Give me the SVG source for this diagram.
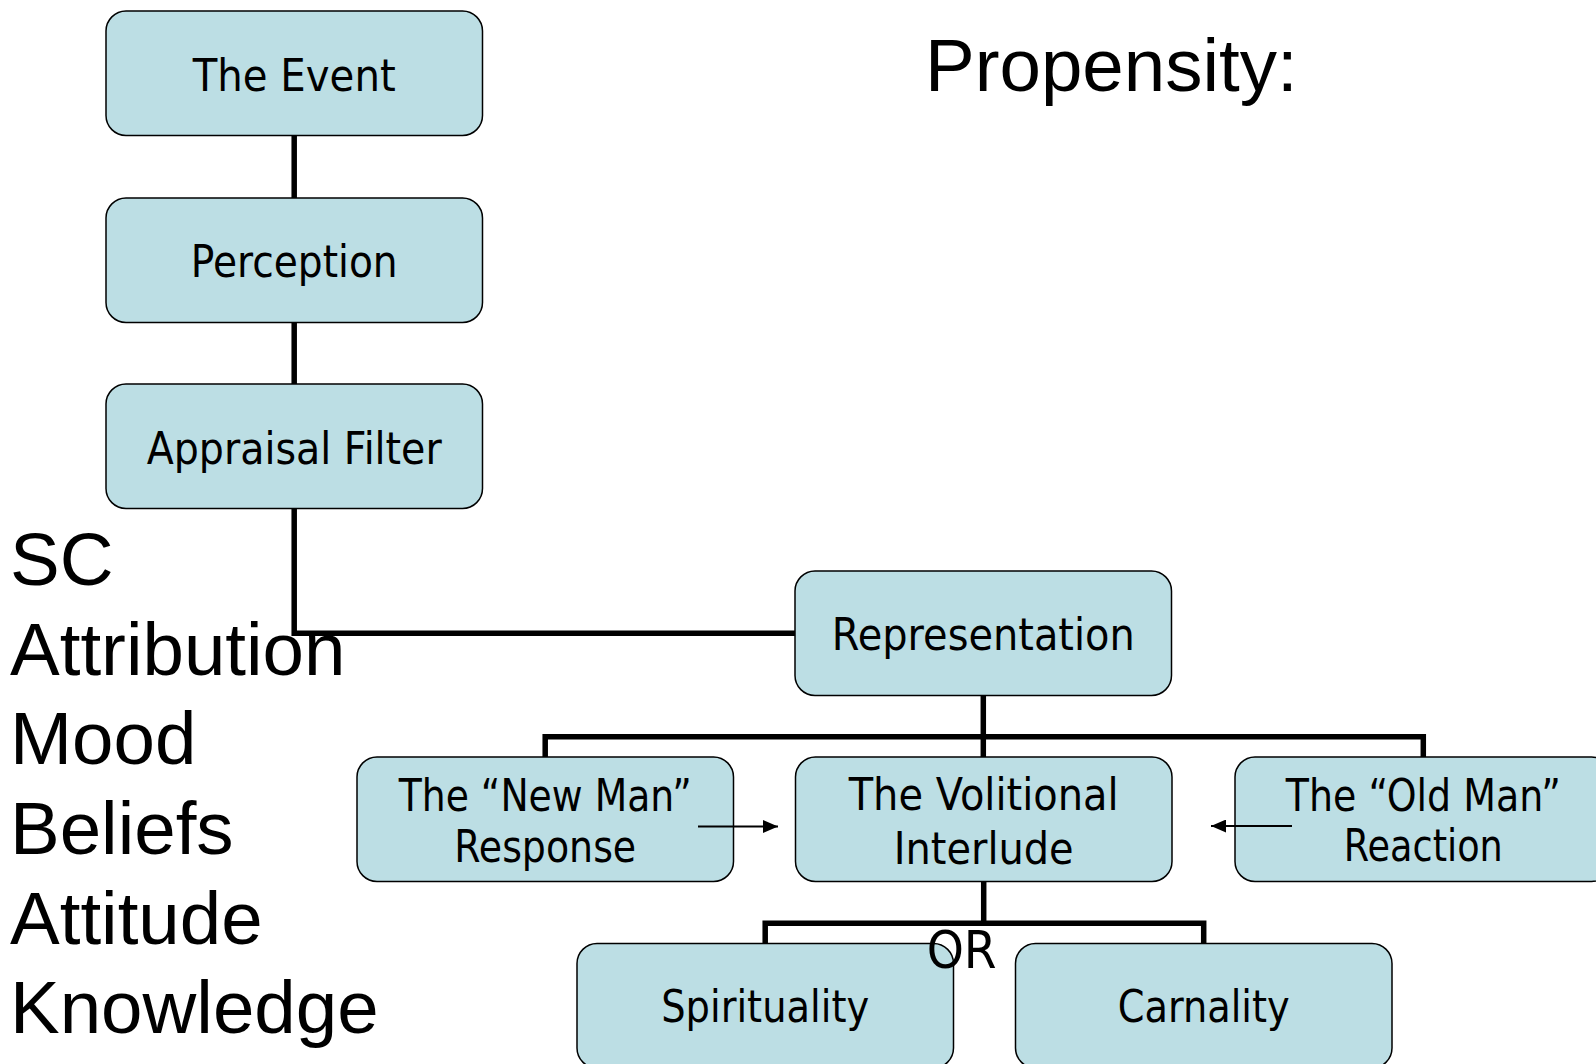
<svg xmlns="http://www.w3.org/2000/svg" width="1596" height="1064" viewBox="0 0 1596 1064">
<style>
.box{fill:#BCDEE4;stroke:#000;stroke-width:1.5}
.lbl{font-family:"DejaVu Sans","Liberation Sans",sans-serif;font-size:45px;fill:#000;text-anchor:middle}
.big{font-family:"Liberation Sans",Arial,sans-serif;font-size:74.5px;fill:#000}
.thick{fill:none;stroke:#000;stroke-width:5.5;stroke-linejoin:miter;stroke-linecap:butt}
.thin{fill:none;stroke:#000;stroke-width:2}
</style>
<defs>
<marker id="ah" viewBox="0 0 15 13" refX="15" refY="6.5" markerWidth="15" markerHeight="13" markerUnits="userSpaceOnUse" orient="auto">
<path d="M0,0 L15,6.5 L0,13 Z" fill="#000"/>
</marker>
</defs>
<rect width="1596" height="1064" fill="#fff"/>

<g id="nodes">
<g id="event">
<rect class="box" x="106" y="11" width="376.5" height="124.5" rx="20"/>
<text class="lbl" x="294.2" y="90.5" textLength="203" lengthAdjust="spacingAndGlyphs">The Event</text>
</g>
<g id="perception">
<rect class="box" x="106" y="198" width="376.5" height="124.5" rx="20"/>
<text class="lbl" x="294.2" y="277.3" textLength="207" lengthAdjust="spacingAndGlyphs">Perception</text>
</g>
<g id="appraisal">
<rect class="box" x="106" y="384" width="376.5" height="124.5" rx="20"/>
<text class="lbl" x="294.2" y="464" textLength="295" lengthAdjust="spacingAndGlyphs">Appraisal Filter</text>
</g>
<g id="representation">
<rect class="box" x="795" y="571" width="376.5" height="124.5" rx="20"/>
<text class="lbl" x="983.3" y="649.5" textLength="303" lengthAdjust="spacingAndGlyphs">Representation</text>
</g>
<g id="newman">
<rect class="box" x="357" y="757" width="376.5" height="124.5" rx="20"/>
<text class="lbl" x="545.2" y="810.5" textLength="293" lengthAdjust="spacingAndGlyphs">The “New Man”</text>
<text class="lbl" x="545.2" y="862" textLength="182" lengthAdjust="spacingAndGlyphs">Response</text>
</g>
<g id="volitional">
<rect class="box" x="795.5" y="757" width="376.5" height="124.5" rx="20"/>
<text class="lbl" x="983.7" y="810" textLength="270" lengthAdjust="spacingAndGlyphs">The Volitional</text>
<text class="lbl" x="983.7" y="864" textLength="180" lengthAdjust="spacingAndGlyphs">Interlude</text>
</g>
<g id="oldman">
<rect class="box" x="1235" y="757" width="376.5" height="124.5" rx="20"/>
<text class="lbl" x="1423.3" y="810.5" textLength="275" lengthAdjust="spacingAndGlyphs">The “Old Man”</text>
<text class="lbl" x="1423.3" y="861" textLength="159" lengthAdjust="spacingAndGlyphs">Reaction</text>
</g>
<g id="spirituality">
<rect class="box" x="577" y="943.5" width="376.5" height="124.5" rx="20"/>
<text class="lbl" x="765.2" y="1022" textLength="208" lengthAdjust="spacingAndGlyphs">Spirituality</text>
</g>
<g id="carnality">
<rect class="box" x="1015.5" y="943.5" width="376.5" height="124.5" rx="20"/>
<text class="lbl" x="1203.7" y="1022" textLength="172" lengthAdjust="spacingAndGlyphs">Carnality</text>
</g>
</g>

<g id="connectors">
<path class="thick" d="M294.2,135.5 V198"/>
<path class="thick" d="M294.2,322.5 V384"/>
<path class="thick" d="M294.2,508.5 V633.3 H795"/>
<path class="thick" d="M983.3,695.5 V757"/>
<path class="thick" d="M545.2,757 V736.7 H1423.3 V757"/>
<path class="thick" d="M983.7,881.5 V923.3"/>
<path class="thick" d="M765.2,943.5 V923.3 H1203.7 V943.5"/>
<line class="thin" x1="698" y1="826.5" x2="778" y2="826.5" marker-end="url(#ah)"/>
<line class="thin" x1="1292" y1="826" x2="1211" y2="826" marker-end="url(#ah)"/>
</g>

<g id="labels">
<text class="lbl" x="961.7" y="968.3" style="font-size:52px" textLength="70" lengthAdjust="spacingAndGlyphs">OR</text>
<text class="big" x="925" y="91">Propensity:</text>
<text class="big" x="10" y="585">SC</text>
<text class="big" x="10" y="674.5">Attribution</text>
<text class="big" x="10" y="764">Mood</text>
<text class="big" x="10" y="854">Beliefs</text>
<text class="big" x="10" y="943.5">Attitude</text>
<text class="big" x="10" y="1032.5">Knowledge</text>
</g>
</svg>
